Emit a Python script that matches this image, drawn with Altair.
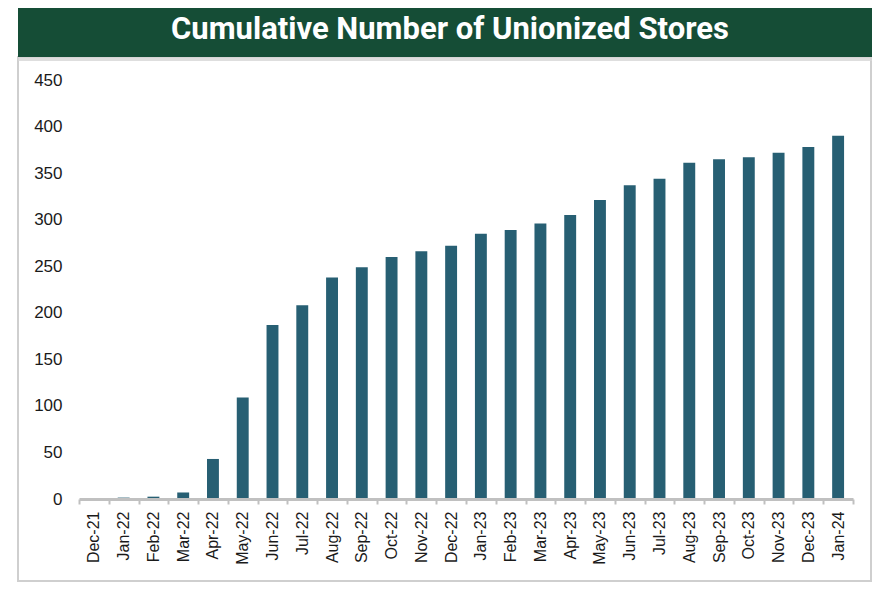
import altair as alt
import pandas as pd

months = ["Dec-21", "Jan-22", "Feb-22", "Mar-22", "Apr-22", "May-22", "Jun-22",
          "Jul-22", "Aug-22", "Sep-22", "Oct-22", "Nov-22", "Dec-22", "Jan-23",
          "Feb-23", "Mar-23", "Apr-23", "May-23", "Jun-23", "Jul-23", "Aug-23",
          "Sep-23", "Oct-23", "Nov-23", "Dec-23", "Jan-24"]
stores = [0.5, 1.5, 2.5, 7, 43, 109, 187, 208, 238, 249, 260, 266, 272, 285,
          289, 296, 305, 321, 337, 344, 361, 365, 367, 372, 378, 390]
y_ticks = [0, 50, 100, 150, 200, 250, 300, 350, 400, 450]
title_text = "Cumulative Number of Unionized Stores"

df = pd.DataFrame({"month": months, "stores": stores})
deco = pd.DataFrame({"t": [title_text]})

PLOT_W, PLOT_H = 774, 419
GREEN = "#154d36"
BAR = "#275f73"

bars = alt.Chart(df).mark_bar(color=BAR, width=alt.RelativeBandSize(0.4)).encode(
    x=alt.X("month:N", sort=months,
            scale=alt.Scale(paddingInner=0, paddingOuter=0),
            axis=alt.Axis(title=None, labelAngle=-90, labelFont="Liberation Sans",
                          labelFontSize=16, labelColor="#1a1a1a", labelPadding=7,
                          tickBand="extent", tickColor="#c0c0c0", tickSize=5,
                          tickWidth=2, domainColor="#c0c0c0", domainWidth=3,
                          labelBaseline="middle", labelAlign="right", zindex=1)),
    y=alt.Y("stores:Q", scale=alt.Scale(domain=[0, 450], nice=False, zero=True),
            axis=alt.Axis(title=None, values=y_ticks, grid=False, domain=False,
                          ticks=False, labelFont="Liberation Sans", labelFontSize=17,
                          labelColor="#1a1a1a", labelPadding=17, zindex=1)),
)

card = alt.Chart(deco).mark_rect(fill="transparent", stroke="#cfcfcf", strokeWidth=2).encode(
    x=alt.value(-61), x2=alt.value(792), y=alt.value(-23), y2=alt.value(501)
)
shadow = alt.Chart(deco).mark_rect(fill="#d6d6d6", opacity=0.8).encode(
    x=alt.value(-61), x2=alt.value(793), y=alt.value(-23), y2=alt.value(-19)
)
banner = alt.Chart(deco).mark_rect(fill=GREEN).encode(
    x=alt.value(-61), x2=alt.value(793), y=alt.value(-72), y2=alt.value(-23)
)
title = alt.Chart(deco).mark_text(
    font="Roboto", fontSize=31, fontWeight="bold", color="white",
    align="center", baseline="alphabetic"
).encode(x=alt.value(371), y=alt.value(-41), text="t:N")

chart = alt.layer(card, shadow, banner, title, bars).properties(
    width=PLOT_W, height=PLOT_H,
    autosize=alt.AutoSizeParams(type="none"),
    padding={"left": 71, "top": 72, "right": 19, "bottom": 84},
).configure_view(stroke=None)

chart.save("out.html", embed_options={"renderer": "svg", "actions": False})
